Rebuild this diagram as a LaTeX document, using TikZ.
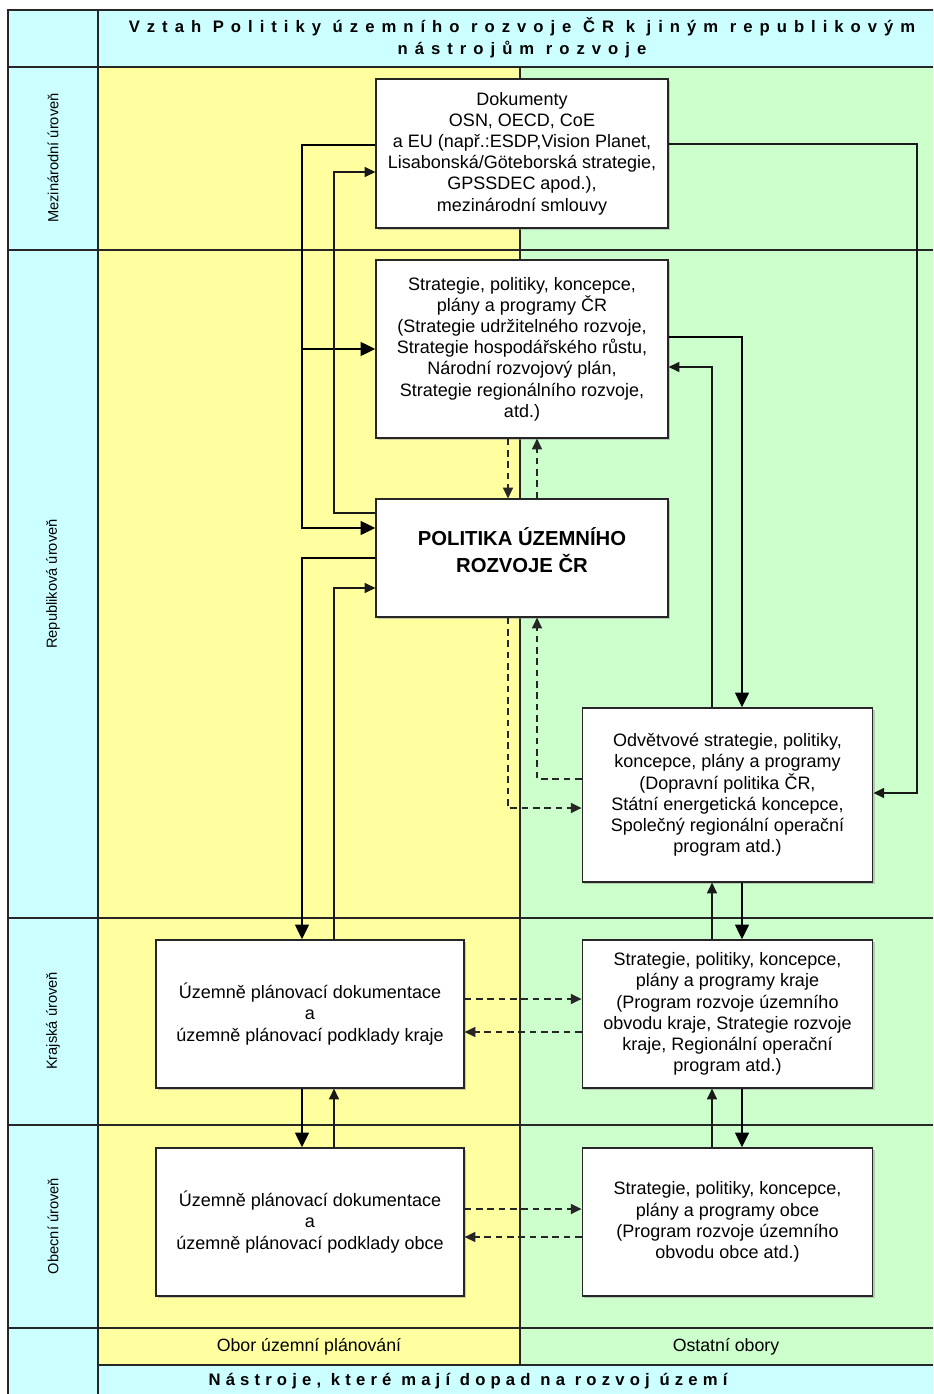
\documentclass[tikz,border=0pt]{standalone}
\usepackage{fontspec}
\setmainfont{Liberation Sans}
\usetikzlibrary{arrows.meta,shadows}

\definecolor{planyellow}{RGB}{255,255,160}
\definecolor{othergreen}{RGB}{204,255,204}
\definecolor{headcyan}{RGB}{204,255,255}

% grid columns and rows (pixel units)
\newcommand*{\colL}{8}
\newcommand*{\colA}{98}
\newcommand*{\colB}{520}
\newcommand*{\colR}{940}
\newcommand*{\rowT}{10}
\newcommand*{\rowA}{67}
\newcommand*{\rowB}{250}
\newcommand*{\rowC}{918}
\newcommand*{\rowD}{1125}
\newcommand*{\rowE}{1328}
\newcommand*{\rowF}{1365}
\newcommand*{\rowZ}{1400}

\begin{document}
\begin{tikzpicture}
[
	x=0.75pt, y=-0.75pt,
	grid/.style={line width=0.9pt,black!85},
	box/.style={draw=black!85,fill=white,line width=0.9pt,align=center,inner sep=0pt,
		drop shadow={shadow xshift=1.5pt,shadow yshift=-1.5pt,fill=black!40,opacity=0.5},
		font=\fontsize{13.5}{15.9}\selectfont},
	midbox/.style={box,minimum width=219pt},
	sidebox/.style={box,minimum width=218pt},
	planbox/.style={box,minimum width=231pt,minimum height=111pt},
	heavy/.style={line width=2.2pt,black,-{Triangle[length=11pt,width=10pt]}},
	light/.style={line width=1pt,black!90,-{Triangle[length=8pt,width=7.5pt]}},
	dashline/.style={line width=1pt,black!85,dash pattern=on 5pt off 3.5pt,-{Triangle[length=8pt,width=7.5pt]}},
	rowlabel/.style={rotate=90,font=\fontsize{11}{13}\selectfont},
	foot/.style={font=\fontsize{13.3}{15}\selectfont},
	spaced/.style={font=\fontsize{12.5}{14}\selectfont\bfseries\addfontfeature{LetterSpace=#1}}
]

	\useasboundingbox (0,0) rectangle (933,1394);
	\clip (0,0) rectangle (933,1394);

	% fills
	\fill[headcyan] (\colL,\rowT) rectangle (\colA,\rowZ);
	\fill[headcyan] (\colA,\rowT) rectangle (\colR,\rowA);
	\fill[planyellow] (\colA,\rowA) rectangle (\colB,\rowF);
	\fill[othergreen] (\colB,\rowA) rectangle (\colR,\rowF);
	\fill[headcyan] (\colA,\rowF) rectangle (\colR,\rowZ);

	% grid
	\draw[grid] (\colL,\rowZ) -- (\colL,\rowT) -- (\colR,\rowT) -- (\colR,\rowZ);
	\draw[grid] (\colA,\rowT) -- (\colA,\rowZ);
	\draw[grid] (\colB,\rowA) -- (\colB,\rowF);
	\foreach \r in {\rowA,\rowB,\rowC,\rowD,\rowE}
		\draw[grid] (\colL,\r) -- (\colR,\r);
	\draw[grid] (\colA,\rowF) -- (\colR,\rowF);

	% headings
	\node[spaced=42] (title1) at (522,27) {Vztah Politiky územního rozvoje ČR k jiným republikovým};
	\node[spaced=42] (title2) at (522,50) {nástrojům rozvoje};
	\node[spaced=31] (tools) at (468,1381) {Nástroje, které mají dopad na rozvoj území};
	\node[foot] (fplan) at (309,1347) {Obor územní plánování};
	\node[foot] (fother) at (726,1347) {Ostatní obory};

	\node[rowlabel] (lvlint) at (53,158) {Mezinárodní úroveň};
	\node[rowlabel] (lvlrep) at (53,584) {Republiková úroveň};
	\node[rowlabel] (lvlkraj) at (53,1021) {Krajská úroveň};
	\node[rowlabel] (lvlobec) at (53,1226) {Obecní úroveň};

	% bus lines
	\coordinate (busA) at (302,0);
	\coordinate (busB) at (334,0);
	\coordinate (busC) at (712,0);
	\coordinate (busD) at (742,0);
	\coordinate (busE) at (917,0);
	\coordinate (dashA) at (508,0);
	\coordinate (dashB) at (537,0);

	% boxes
	\node[midbox,minimum height=111.75pt] at (522,153.5) (intl)
		{Dokumenty\\OSN, OECD, CoE\\a EU (např.:ESDP,Vision Planet,\\Lisabonská/Göteborská strategie,\\GPSSDEC apod.),\\mezinárodní smlouvy};
	\node[midbox,minimum height=133.5pt] at (522,349) (strat)
		{Strategie, politiky, koncepce,\\plány a programy ČR\\(Strategie udržitelného rozvoje,\\Strategie hospodářského růstu,\\Národní rozvojový plán,\\Strategie regionálního rozvoje,\\atd.)};
	\node[midbox,minimum height=88.5pt] at (522,558) (pur) {};
	\node[align=center,font=\fontsize{15.2}{20}\selectfont\bfseries] at (522,550) (purtext)
		{POLITIKA ÚZEMNÍHO\\ROZVOJE ČR};
	\node[sidebox,minimum height=130.5pt] at (727.5,795) (odv)
		{Odvětvové strategie, politiky,\\koncepce, plány a programy\\(Dopravní politika ČR,\\Státní energetická koncepce,\\Společný regionální operační\\program atd.)};
	\node[planbox] at (310,1014) (kup)
		{Územně plánovací dokumentace\\a\\územně plánovací podklady kraje};
	\node[sidebox,minimum height=111pt] at (727.5,1014) (kst)
		{Strategie, politiky, koncepce,\\plány a programy kraje\\(Program rozvoje územního\\obvodu kraje, Strategie rozvoje\\kraje, Regionální operační\\program atd.)};
	\node[planbox] at (310,1222) (oup)
		{Územně plánovací dokumentace\\a\\územně plánovací podklady obce};
	\node[sidebox,minimum height=111pt] at (727.5,1222) (ost)
		{Strategie, politiky, koncepce,\\plány a programy obce\\(Program rozvoje územního\\obvodu obce atd.)};

	% left side
	\draw[heavy] (intl.west |- 0,145) -| (busA |- 0,528) -- (pur.west |- 0,528);
	\draw[heavy] (busA |- strat.west) -- (strat.west);
	\draw[heavy] (pur.west) -| (kup.north -| busA);
	\draw[light] (pur.west |- 0,513) -| (busB |- 0,172) -- (intl.west |- 0,172);
	\draw[light] (kup.north -| busB) |- (pur.west |- 0,588);
	\draw[heavy] (kup.south -| busA) -- (oup.north -| busA);
	\draw[light] (oup.north -| busB) -- (kup.south -| busB);

	% middle
	\draw[dashline] (strat.south -| dashA) -- (pur.north -| dashA);
	\draw[dashline] (pur.north -| dashB) -- (strat.south -| dashB);
	\draw[dashline] (pur.south -| dashA) |- (odv.west |- 0,808);
	\draw[dashline] (odv.west |- 0,779) -| (pur.south -| dashB);

	% right side
	\draw[heavy] (strat.east |- 0,337) -| (odv.north -| busD);
	\draw[light] (odv.north -| busC) |- (strat.east |- 0,367);
	\draw[light] (intl.east |- 0,144) -| (busE |- 0,793) -- (odv.east |- 0,793);
	\draw[heavy] (odv.south -| busD) -- (kst.north -| busD);
	\draw[light] (kst.north -| busC) -- (odv.south -| busC);
	\draw[heavy] (kst.south -| busD) -- (ost.north -| busD);
	\draw[light] (ost.north -| busC) -- (kst.south -| busC);

	% across
	\draw[dashline] (kup.east |- 0,999) -- (kst.west |- 0,999);
	\draw[dashline] (kst.west |- 0,1032) -- (kup.east |- 0,1032);
	\draw[dashline] (oup.east |- 0,1209) -- (ost.west |- 0,1209);
	\draw[dashline] (ost.west |- 0,1237) -- (oup.east |- 0,1237);

\end{tikzpicture}
\end{document}
